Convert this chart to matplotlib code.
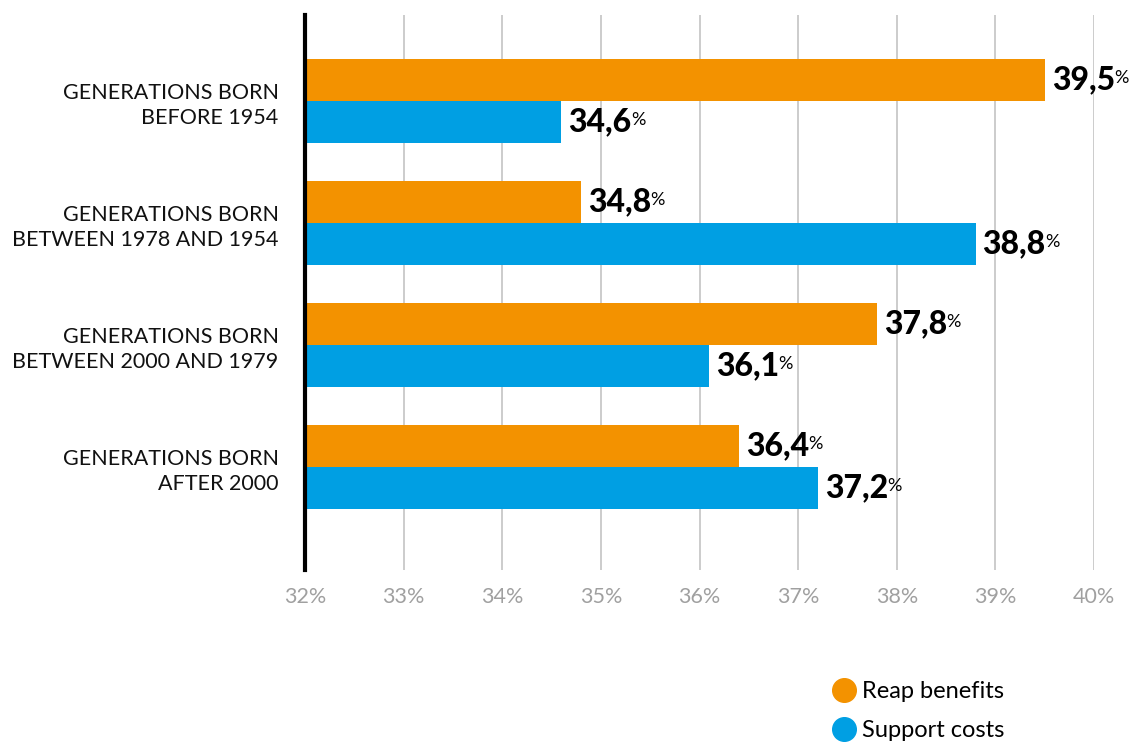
import matplotlib.pyplot as plt
from matplotlib.lines import Line2D
import numpy as np

categories = ["GENERATIONS BORN\nBEFORE 1954",
              "GENERATIONS BORN\nBETWEEN 1978 AND 1954",
              "GENERATIONS BORN\nBETWEEN 2000 AND 1979",
              "GENERATIONS BORN\nAFTER 2000"]
reap = [39.5, 34.8, 37.8, 36.4]
support = [34.6, 38.8, 36.1, 37.2]
xticks = [32, 33, 34, 35, 36, 37, 38, 39, 40]
series_names = ["Reap benefits", "Support costs"]

ORANGE = '#F39200'
BLUE = '#009FE3'

plt.rcParams['font.family'] = ['Lato', 'DejaVu Sans']

fig = plt.figure(figsize=(11.39, 7.42), dpi=100)
ax = fig.add_axes([305/1139, 1 - 570/742, (1094-305)/1139, (570-15)/742])

y = np.arange(len(categories))
h = 0.344
ax.barh(y - h/2, [v - 32 for v in reap], left=32, height=h, color=ORANGE, zorder=3)
ax.barh(y + h/2, [v - 32 for v in support], left=32, height=h, color=BLUE, zorder=3)

ax.set_xlim(32, 40)
ax.set_ylim(3.844, -0.705)
ax.set_xticks(xticks)
ax.set_xticklabels([f"{t}%" for t in xticks], color='#a0a0a0', fontsize=15.5)
ax.set_yticks(y)
ax.set_yticklabels(categories, fontsize=15.5, ha='right', color='#111111', linespacing=1.3)
ax.tick_params(axis='both', length=0)
ax.tick_params(axis='x', pad=12)
ax.tick_params(axis='y', pad=19)
ax.grid(axis='x', color='#c4c4c4', linewidth=1.2, zorder=0)

for s in ['top', 'right', 'bottom']:
    ax.spines[s].set_visible(False)
ax.spines['left'].set_linewidth(3)
ax.spines['left'].set_color('black')
ax.spines['left'].set_zorder(5)

def label(val, ypos):
    t = ax.annotate(f"{val:.1f}".replace('.', ','), xy=(val, ypos), xytext=(5, 0),
                    textcoords='offset points', va='center', ha='left',
                    fontsize=23, fontweight='black', color='black', zorder=6)
    ax.annotate('%', xy=(1, 1), xycoords=t, xytext=(-0.5, -3), textcoords='offset points',
                va='top', ha='left', fontsize=13, color='black', zorder=6)

for i in range(len(categories)):
    label(reap[i], y[i] - h/2)
    label(support[i], y[i] + h/2)

handles = [Line2D([], [], marker='o', linestyle='', color=c, markersize=17) for c in (ORANGE, BLUE)]
fig.legend(handles, series_names, loc='upper left', bbox_to_anchor=(822/1139, 1 - 672/742),
           frameon=False, fontsize=17, handletextpad=0.2, labelspacing=0.75,
           handlelength=1.1, borderaxespad=0)

fig.savefig('out.png', dpi=100)
